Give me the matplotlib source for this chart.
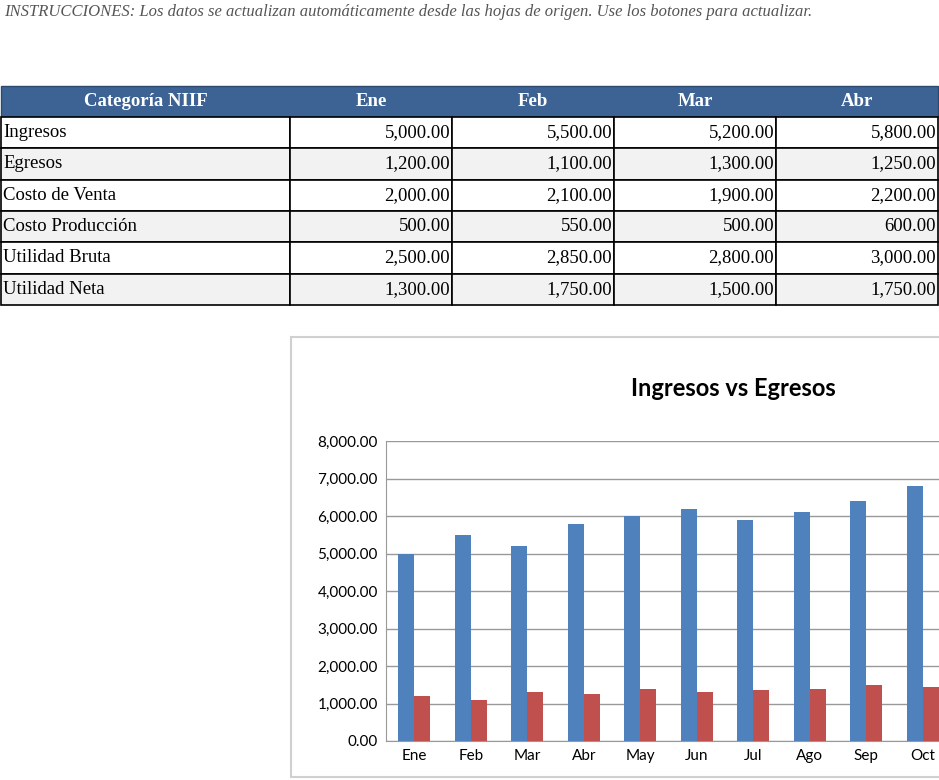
import matplotlib.pyplot as plt
from matplotlib.patches import Rectangle

# table data
row_labels = ["Ingresos", "Egresos", "Costo de Venta", "Costo Producción", "Utilidad Bruta", "Utilidad Neta"]
table_months = ["Ene", "Feb", "Mar", "Abr"]
table_values = [
    [5000, 5500, 5200, 5800],
    [1200, 1100, 1300, 1250],
    [2000, 2100, 1900, 2200],
    [500, 550, 500, 600],
    [2500, 2850, 2800, 3000],
    [1300, 1750, 1500, 1750],
]

# chart data
months = ["Ene", "Feb", "Mar", "Abr", "May", "Jun", "Jul", "Ago", "Sep", "Oct"]
ingresos = [5000, 5500, 5200, 5800, 6000, 6200, 5900, 6100, 6400, 6800]
egresos = [1200, 1100, 1300, 1250, 1400, 1300, 1350, 1400, 1500, 1450]

W, H = 939, 780
fig = plt.figure(figsize=(W / 100, H / 100), dpi=100, facecolor="white")

# pixel-coordinate overlay for the sheet
ax0 = fig.add_axes([0, 0, 1, 1])
ax0.set_xlim(0, W)
ax0.set_ylim(H, 0)
ax0.axis("off")

serif = "Liberation Serif"
ax0.text(4, 12, "INSTRUCCIONES: Los datos se actualizan automáticamente desde las hojas de origen. "
         "Use los botones para actualizar.", fontsize=12, style="italic", color="#555555",
         family=serif, va="center", ha="left", clip_on=True)

col_x = [1, 290, 452, 614, 776, 938]
header_top, header_h, row_h = 86, 31, 31.3

ax0.add_patch(Rectangle((col_x[0], header_top), col_x[-1] - col_x[0], header_h,
                        facecolor="#3C6394", edgecolor="#2c4a70", lw=1))
headers = ["Categoría NIIF"] + table_months
for j, h in enumerate(headers):
    cx = (col_x[j] + col_x[j + 1]) / 2
    ax0.text(cx, header_top + header_h / 2, h, color="white", fontweight="bold",
             fontsize=13.5, family=serif, ha="center", va="center")

for i, lab in enumerate(row_labels):
    y = header_top + header_h + i * row_h
    fc = "#f2f2f2" if i % 2 == 1 else "white"
    for j in range(5):
        ax0.add_patch(Rectangle((col_x[j], y), col_x[j + 1] - col_x[j], row_h,
                                facecolor=fc, edgecolor="black", lw=1.2))
    ax0.text(col_x[0] + 2, y + row_h / 2, lab, fontsize=13.5, family=serif,
             ha="left", va="center")
    for j, v in enumerate(table_values[i]):
        ax0.text(col_x[j + 2] - 2, y + row_h / 2, f"{v:,.2f}", fontsize=13.5,
                 family=serif, ha="right", va="center")

# chart frame
ax0.add_patch(Rectangle((291, 337), 700, 440, facecolor="white", edgecolor="#d0d0d0", lw=1.5))
ax0.text(733, 389, "Ingresos vs Egresos", fontsize=17, fontweight="bold",
         family="Lato", ha="center", va="center")

# chart axes (extends past the right edge like the cropped sheet)
ax = fig.add_axes([386 / W, 39 / H, 678 / W, 300 / H])
x = list(range(len(months)))
bw = 0.285
ax.bar([i - bw / 2 for i in x], ingresos, width=bw, color="#4F81BD", zorder=3)
ax.bar([i + bw / 2 for i in x], egresos, width=bw, color="#C0504D", zorder=3)
ax.set_xlim(-0.5, 11.5)
ax.set_ylim(0, 8000)
ax.set_yticks(range(0, 8001, 1000))
ax.set_yticklabels([f"{v:,.2f}" for v in range(0, 8001, 1000)], family="Lato", fontsize=11)
ax.set_xticks(x)
ax.set_xticklabels(months, family="Lato", fontsize=11)
ax.tick_params(length=0, pad=6)
ax.grid(axis="y", color="#999999", lw=1, zorder=0)
for s in ["top", "right"]:
    ax.spines[s].set_visible(False)
for s in ["left", "bottom"]:
    ax.spines[s].set_color("#999999")

fig.savefig("out.png", dpi=100, facecolor="white")
